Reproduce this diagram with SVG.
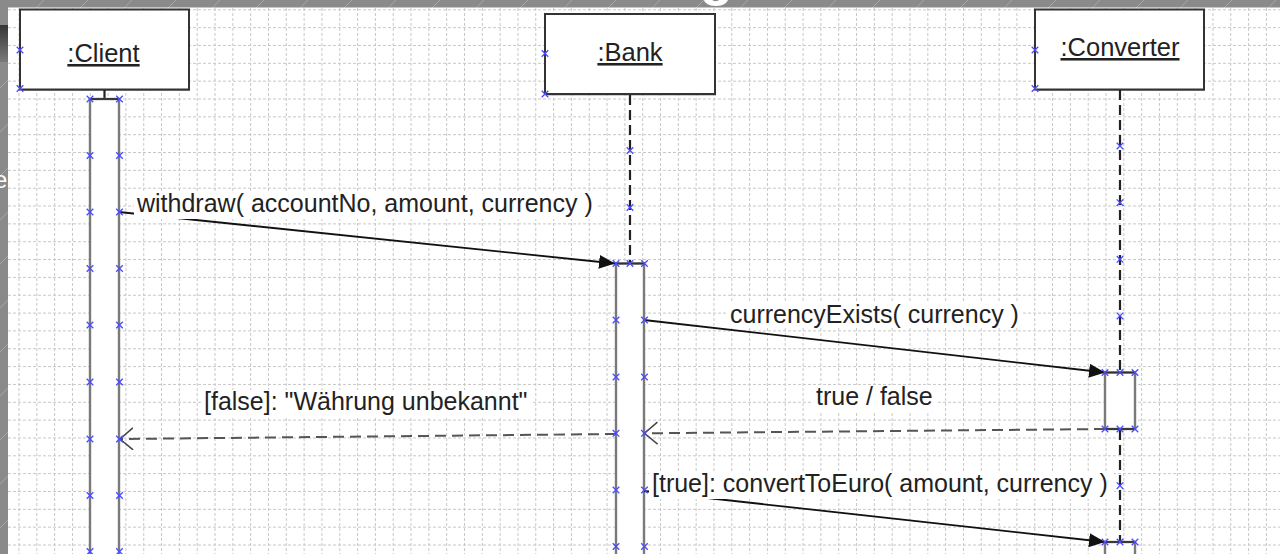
<svg xmlns="http://www.w3.org/2000/svg" xmlns:xlink="http://www.w3.org/1999/xlink" width="1280" height="554" viewBox="0 0 1280 554">
<style>
.grid line{stroke:#c8c8c8;stroke-width:1;stroke-dasharray:3 2}
.obj{fill:#fff;stroke:#333;stroke-width:2}
.shadow{fill:#9a9a9a}
.act{fill:#fff;stroke:#7a7a7a;stroke-width:2.4}
.actedge{stroke:#333;stroke-width:1.8}
.life{stroke:#222;stroke-width:2.2;stroke-dasharray:10 5;fill:none}
.msg{stroke:#111;stroke-width:1.8;fill:none}
.ret{stroke:#555;stroke-width:2;stroke-dasharray:11 6;fill:none}
.lbl{fill:#fff}
text{font-family:"Liberation Sans",Arial,sans-serif;fill:#222}
.name{font-size:25.5px;text-anchor:middle;text-decoration:underline}
.mtext{font-size:25px}
</style>
<defs>
<marker id="fa" markerWidth="17" markerHeight="15" refX="16" refY="7" orient="auto" markerUnits="userSpaceOnUse">
<path d="M0,0 L16,7 L0,14 z" fill="#111"/>
</marker>
<marker id="oa" markerWidth="16" markerHeight="26" refX="13.5" refY="11.5" orient="auto" markerUnits="userSpaceOnUse">
<path d="M0.5,0.5 L13.5,11.5 L0.5,22.5" fill="none" stroke="#444" stroke-width="1.5"/>
</marker>
<path id="xm" d="M-3.3,-3.3 L3.3,3.3 M-3.3,3.3 L3.3,-3.3" stroke="#4a4aff" stroke-width="1.3" fill="none"/>
<linearGradient id="dk" x1="0" y1="0" x2="0" y2="1">
<stop offset="0" stop-color="#353535"/>
<stop offset="1" stop-color="#7a7a7a"/>
</linearGradient>
<pattern id="diag" width="44" height="44" patternUnits="userSpaceOnUse">
<line x1="0" y1="44" x2="44" y2="0" stroke="#a6a6a6" stroke-width="1"/>
</pattern>
</defs>

<!-- outer frame -->
<rect x="0" y="0" width="1280" height="554" fill="#8a8a8a"/>
<rect x="0" y="0" width="1280" height="554" fill="url(#diag)"/>
<rect x="0" y="25" width="8" height="37" fill="url(#dk)"/>
<text x="-6" y="188" style="font-size:24px;fill:#fff">e</text>
<text x="700" y="-5.5" style="font-size:54px;font-weight:bold;fill:#fff">g</text>

<!-- canvas -->
<rect x="8" y="7.5" width="1272" height="547" fill="#fff"/>

<g class="grid" id="grid">
<line x1="8" y1="9.8" x2="1280" y2="9.8"/>
<line x1="8" y1="27.64" x2="1280" y2="27.64"/>
<line x1="8" y1="45.48" x2="1280" y2="45.48"/>
<line x1="8" y1="63.32" x2="1280" y2="63.32"/>
<line x1="8" y1="81.16" x2="1280" y2="81.16"/>
<line x1="8" y1="99" x2="1280" y2="99"/>
<line x1="8" y1="116.84" x2="1280" y2="116.84"/>
<line x1="8" y1="134.68" x2="1280" y2="134.68"/>
<line x1="8" y1="152.52" x2="1280" y2="152.52"/>
<line x1="8" y1="170.36" x2="1280" y2="170.36"/>
<line x1="8" y1="188.2" x2="1280" y2="188.2"/>
<line x1="8" y1="206.04" x2="1280" y2="206.04"/>
<line x1="8" y1="223.88" x2="1280" y2="223.88"/>
<line x1="8" y1="241.72" x2="1280" y2="241.72"/>
<line x1="8" y1="259.56" x2="1280" y2="259.56"/>
<line x1="8" y1="277.4" x2="1280" y2="277.4"/>
<line x1="8" y1="295.24" x2="1280" y2="295.24"/>
<line x1="8" y1="313.08" x2="1280" y2="313.08"/>
<line x1="8" y1="330.92" x2="1280" y2="330.92"/>
<line x1="8" y1="348.76" x2="1280" y2="348.76"/>
<line x1="8" y1="366.6" x2="1280" y2="366.6"/>
<line x1="8" y1="384.44" x2="1280" y2="384.44"/>
<line x1="8" y1="402.28" x2="1280" y2="402.28"/>
<line x1="8" y1="420.12" x2="1280" y2="420.12"/>
<line x1="8" y1="437.96" x2="1280" y2="437.96"/>
<line x1="8" y1="455.8" x2="1280" y2="455.8"/>
<line x1="8" y1="473.64" x2="1280" y2="473.64"/>
<line x1="8" y1="491.48" x2="1280" y2="491.48"/>
<line x1="8" y1="509.32" x2="1280" y2="509.32"/>
<line x1="8" y1="527.16" x2="1280" y2="527.16"/>
<line x1="8" y1="545" x2="1280" y2="545"/>
<line x1="19" y1="8" x2="19" y2="554"/>
<line x1="36.82" y1="8" x2="36.82" y2="554"/>
<line x1="54.64" y1="8" x2="54.64" y2="554"/>
<line x1="72.46" y1="8" x2="72.46" y2="554"/>
<line x1="90.28" y1="8" x2="90.28" y2="554"/>
<line x1="108.1" y1="8" x2="108.1" y2="554"/>
<line x1="125.92" y1="8" x2="125.92" y2="554"/>
<line x1="143.74" y1="8" x2="143.74" y2="554"/>
<line x1="161.56" y1="8" x2="161.56" y2="554"/>
<line x1="179.38" y1="8" x2="179.38" y2="554"/>
<line x1="197.2" y1="8" x2="197.2" y2="554"/>
<line x1="215.02" y1="8" x2="215.02" y2="554"/>
<line x1="232.84" y1="8" x2="232.84" y2="554"/>
<line x1="250.66" y1="8" x2="250.66" y2="554"/>
<line x1="268.48" y1="8" x2="268.48" y2="554"/>
<line x1="286.3" y1="8" x2="286.3" y2="554"/>
<line x1="304.12" y1="8" x2="304.12" y2="554"/>
<line x1="321.94" y1="8" x2="321.94" y2="554"/>
<line x1="339.76" y1="8" x2="339.76" y2="554"/>
<line x1="357.58" y1="8" x2="357.58" y2="554"/>
<line x1="375.4" y1="8" x2="375.4" y2="554"/>
<line x1="393.22" y1="8" x2="393.22" y2="554"/>
<line x1="411.04" y1="8" x2="411.04" y2="554"/>
<line x1="428.86" y1="8" x2="428.86" y2="554"/>
<line x1="446.68" y1="8" x2="446.68" y2="554"/>
<line x1="464.5" y1="8" x2="464.5" y2="554"/>
<line x1="482.32" y1="8" x2="482.32" y2="554"/>
<line x1="500.14" y1="8" x2="500.14" y2="554"/>
<line x1="517.96" y1="8" x2="517.96" y2="554"/>
<line x1="535.78" y1="8" x2="535.78" y2="554"/>
<line x1="553.6" y1="8" x2="553.6" y2="554"/>
<line x1="571.42" y1="8" x2="571.42" y2="554"/>
<line x1="589.24" y1="8" x2="589.24" y2="554"/>
<line x1="607.06" y1="8" x2="607.06" y2="554"/>
<line x1="624.88" y1="8" x2="624.88" y2="554"/>
<line x1="642.7" y1="8" x2="642.7" y2="554"/>
<line x1="660.52" y1="8" x2="660.52" y2="554"/>
<line x1="678.34" y1="8" x2="678.34" y2="554"/>
<line x1="696.16" y1="8" x2="696.16" y2="554"/>
<line x1="713.98" y1="8" x2="713.98" y2="554"/>
<line x1="731.8" y1="8" x2="731.8" y2="554"/>
<line x1="749.62" y1="8" x2="749.62" y2="554"/>
<line x1="767.44" y1="8" x2="767.44" y2="554"/>
<line x1="785.26" y1="8" x2="785.26" y2="554"/>
<line x1="803.08" y1="8" x2="803.08" y2="554"/>
<line x1="820.9" y1="8" x2="820.9" y2="554"/>
<line x1="838.72" y1="8" x2="838.72" y2="554"/>
<line x1="856.54" y1="8" x2="856.54" y2="554"/>
<line x1="874.36" y1="8" x2="874.36" y2="554"/>
<line x1="892.18" y1="8" x2="892.18" y2="554"/>
<line x1="910" y1="8" x2="910" y2="554"/>
<line x1="927.82" y1="8" x2="927.82" y2="554"/>
<line x1="945.64" y1="8" x2="945.64" y2="554"/>
<line x1="963.46" y1="8" x2="963.46" y2="554"/>
<line x1="981.28" y1="8" x2="981.28" y2="554"/>
<line x1="999.1" y1="8" x2="999.1" y2="554"/>
<line x1="1016.92" y1="8" x2="1016.92" y2="554"/>
<line x1="1034.74" y1="8" x2="1034.74" y2="554"/>
<line x1="1052.56" y1="8" x2="1052.56" y2="554"/>
<line x1="1070.38" y1="8" x2="1070.38" y2="554"/>
<line x1="1088.2" y1="8" x2="1088.2" y2="554"/>
<line x1="1106.02" y1="8" x2="1106.02" y2="554"/>
<line x1="1123.84" y1="8" x2="1123.84" y2="554"/>
<line x1="1141.66" y1="8" x2="1141.66" y2="554"/>
<line x1="1159.48" y1="8" x2="1159.48" y2="554"/>
<line x1="1177.3" y1="8" x2="1177.3" y2="554"/>
<line x1="1195.12" y1="8" x2="1195.12" y2="554"/>
<line x1="1212.94" y1="8" x2="1212.94" y2="554"/>
<line x1="1230.76" y1="8" x2="1230.76" y2="554"/>
<line x1="1248.58" y1="8" x2="1248.58" y2="554"/>
<line x1="1266.4" y1="8" x2="1266.4" y2="554"/>
</g>

<g id="client">
<rect class="shadow" x="21" y="11" width="169" height="80"/>
<rect class="obj" x="20" y="9.5" width="169" height="80"/>
<text class="name" x="103.5" y="62">:Client</text>
<line class="life" x1="104.5" y1="90" x2="104.5" y2="99"/>
<rect class="act" x="90" y="99" width="29" height="470"/>
<line class="actedge" x1="89" y1="99" x2="120" y2="99"/>
</g>

<g id="bank">
<rect class="shadow" x="546" y="15.5" width="170" height="80"/>
<rect class="obj" x="545" y="14" width="170" height="80"/>
<text class="name" x="630" y="61">:Bank</text>
<line class="life" x1="630" y1="95" x2="630" y2="263.5"/>
<rect class="act" x="616" y="263.5" width="28" height="310"/>
<line class="actedge" x1="615" y1="263.5" x2="645" y2="263.5"/>
</g>

<g id="converter">
<rect class="shadow" x="1036" y="11" width="169" height="80"/>
<rect class="obj" x="1035" y="9.5" width="169" height="80"/>
<text class="name" x="1120" y="56">:Converter</text>
<line class="life" x1="1120" y1="90" x2="1120" y2="372.5"/>
<line class="life" x1="1120" y1="430" x2="1120" y2="542"/>
<rect class="act" x="1105" y="372.5" width="30" height="56.5"/>
<line class="actedge" x1="1104" y1="372.5" x2="1136" y2="372.5"/>
<line class="actedge" x1="1104" y1="429" x2="1136" y2="429"/>
<rect class="act" x="1105" y="542" width="30" height="40"/>
<line class="actedge" x1="1104" y1="542" x2="1136" y2="542"/>
</g>

<g id="connectors">
<line class="msg" x1="119" y1="212" x2="615" y2="263.5" marker-end="url(#fa)"/>
<rect class="lbl" x="134" y="192" width="463" height="27"/>
<text class="mtext" x="137" y="212">withdraw( accountNo, amount, currency )</text>

<line class="msg" x1="644" y1="320" x2="1105" y2="372.5" marker-end="url(#fa)"/>
<rect class="lbl" x="727" y="302" width="296" height="26"/>
<text class="mtext" x="730" y="322.5">currencyExists( currency )</text>

<line class="ret" x1="1105" y1="429" x2="644.5" y2="433.3" marker-end="url(#oa)"/>
<rect class="lbl" x="813" y="385" width="123" height="26"/>
<text class="mtext" x="816" y="405">true / false</text>

<line class="ret" x1="616" y1="434" x2="120" y2="439" marker-end="url(#oa)"/>
<rect class="lbl" x="201" y="390" width="331" height="26"/>
<text class="mtext" x="204" y="410">[false]: "Währung unbekannt"</text>

<line class="msg" x1="644" y1="491" x2="1105" y2="542" marker-end="url(#fa)"/>
<rect class="lbl" x="649" y="472" width="465" height="27"/>
<text class="mtext" x="652" y="492">[true]: convertToEuro( amount, currency )</text>
</g>

<g id="handles">
<use xlink:href="#xm" x="20" y="50"/>
<use xlink:href="#xm" x="20" y="88.5"/>
<use xlink:href="#xm" x="90" y="99"/><use xlink:href="#xm" x="119.5" y="99"/>
<use xlink:href="#xm" x="90" y="155.5"/><use xlink:href="#xm" x="119.5" y="155.5"/>
<use xlink:href="#xm" x="90" y="212"/><use xlink:href="#xm" x="119.5" y="212"/>
<use xlink:href="#xm" x="90" y="268.5"/><use xlink:href="#xm" x="119.5" y="268.5"/>
<use xlink:href="#xm" x="90" y="325"/><use xlink:href="#xm" x="119.5" y="325"/>
<use xlink:href="#xm" x="90" y="382"/><use xlink:href="#xm" x="119.5" y="382"/>
<use xlink:href="#xm" x="90" y="439"/><use xlink:href="#xm" x="119.5" y="439"/>
<use xlink:href="#xm" x="90" y="495.5"/><use xlink:href="#xm" x="119.5" y="495.5"/>
<use xlink:href="#xm" x="90" y="551.5"/><use xlink:href="#xm" x="119.5" y="551.5"/>

<use xlink:href="#xm" x="545" y="53.5"/>
<use xlink:href="#xm" x="545" y="94"/>
<use xlink:href="#xm" x="630" y="150.5"/>
<use xlink:href="#xm" x="630" y="207.5"/>
<use xlink:href="#xm" x="630" y="263.5"/>
<use xlink:href="#xm" x="616" y="263.5"/><use xlink:href="#xm" x="644.5" y="263.5"/>
<use xlink:href="#xm" x="616" y="320"/><use xlink:href="#xm" x="644.5" y="320"/>
<use xlink:href="#xm" x="616" y="377"/><use xlink:href="#xm" x="644.5" y="377"/>
<use xlink:href="#xm" x="616" y="433.3"/><use xlink:href="#xm" x="644.5" y="433.3"/>
<use xlink:href="#xm" x="616" y="490"/><use xlink:href="#xm" x="644.5" y="490"/>
<use xlink:href="#xm" x="616" y="546.5"/><use xlink:href="#xm" x="644.5" y="546.5"/>

<use xlink:href="#xm" x="1035" y="50"/>
<use xlink:href="#xm" x="1035" y="88.5"/>
<use xlink:href="#xm" x="1120" y="146"/>
<use xlink:href="#xm" x="1120" y="202.7"/>
<use xlink:href="#xm" x="1120" y="259.3"/>
<use xlink:href="#xm" x="1120" y="315.9"/>
<use xlink:href="#xm" x="1105" y="372.5"/><use xlink:href="#xm" x="1120" y="372.5"/><use xlink:href="#xm" x="1135" y="372.5"/>
<use xlink:href="#xm" x="1105" y="429"/><use xlink:href="#xm" x="1120" y="429"/><use xlink:href="#xm" x="1135" y="429"/>
<use xlink:href="#xm" x="1120" y="485.7"/>
<use xlink:href="#xm" x="1105" y="542"/><use xlink:href="#xm" x="1120" y="542"/><use xlink:href="#xm" x="1135" y="542"/>
</g>
</svg>
